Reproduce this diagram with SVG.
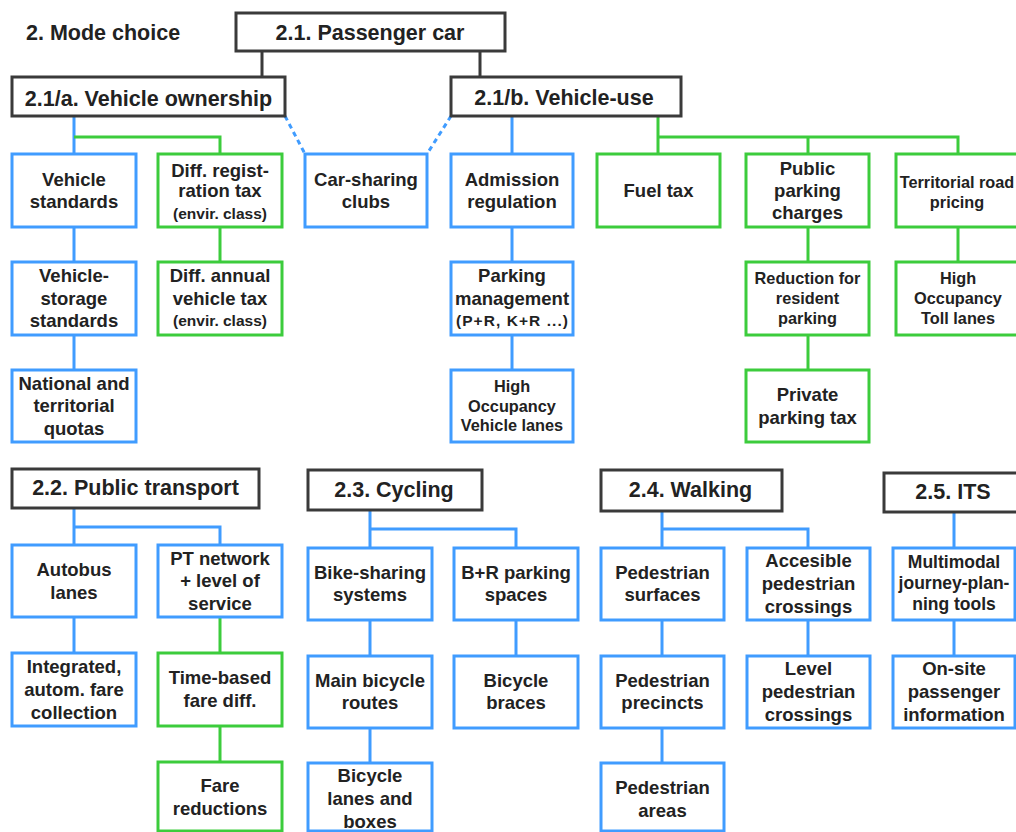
<svg xmlns="http://www.w3.org/2000/svg" width="1016" height="832" viewBox="0 0 1016 832">
<style>
  text { font-family: "Liberation Sans", Arial, sans-serif; font-weight: bold; fill: #222; text-anchor: middle; }
  .t { font-size: 18.5px; }
  .s { font-size: 16.3px; }
  .xs { font-size: 15.5px; }
  .h { font-size: 21.5px; }
  .hd rect { fill: #fff; stroke: #3a3a3a; stroke-width: 3; }
  .bl rect { fill: #fff; stroke: #409cff; stroke-width: 3; }
  .gr rect { fill: #fff; stroke: #3ccc3c; stroke-width: 3; }
  .cb { stroke: #409cff; stroke-width: 3; fill: none; }
  .cg { stroke: #3ccc3c; stroke-width: 3; fill: none; }
  .ck { stroke: #3a3a3a; stroke-width: 3; fill: none; }
  .cd { stroke: #409cff; stroke-width: 3; fill: none; stroke-dasharray: 5 4; }
</style>
<rect width="1016" height="832" fill="#fff"/>

<g id="connectors">
  <path class="ck" d="M262 51V77M480 51V77"/>
  <path class="cb" d="M74 116V154M74 227V262M74 335V370"/>
  <path class="cg" d="M74 137H220V154M220 227V262"/>
  <path class="cd" d="M285 116L305 154M451 116L427 154"/>
  <path class="cb" d="M512 116V154M512 227V262M512 335V370"/>
  <path class="cg" d="M658 116V154M658 137H958V154M808 137V154M808 227V262M808 335V370M958 227V262"/>
  <path class="cb" d="M74 508V545M74 527H220V545M74 617V653"/>
  <path class="cg" d="M220 617V653M220 726V762"/>
  <path class="cb" d="M370 510V548M370 529H516V548M370 620V656M370 728V763M516 620V656"/>
  <path class="cb" d="M662 511V548M662 529H808V548M662 620V656M662 728V763M808 620V656"/>
  <path class="cb" d="M954 512V548M954 620V656"/>
</g>

<text id="mode-choice" class="h" x="26" y="39.5" style="text-anchor:start">2. Mode choice</text>

<g id="n-passenger-car" class="hd"><rect x="236" y="13" width="269" height="38"/><text class="h" x="370" y="40">2.1. Passenger car</text></g>
<g id="n-vehicle-ownership" class="hd"><rect x="12" y="77" width="273" height="39"/><text class="h" x="148.5" y="106">2.1/a. Vehicle ownership</text></g>
<g id="n-vehicle-use" class="hd"><rect x="451" y="77" width="230" height="39"/><text class="h" x="564" y="104.5">2.1/b. Vehicle-use</text></g>

<g id="n-vehicle-standards" class="bl"><rect x="12" y="154" width="124" height="73"/><text class="t" x="74"><tspan x="74" y="186">Vehicle</tspan><tspan x="74" y="208">standards</tspan></text></g>
<g id="n-diff-registration" class="gr"><rect x="158" y="154" width="124" height="73"/><text class="t" x="220"><tspan x="220" y="176.5">Diff. regist-</tspan><tspan x="220" y="197">ration tax</tspan></text><text class="xs" x="220" y="219">(envir. class)</text></g>
<g id="n-car-sharing" class="bl"><rect x="305" y="154" width="122" height="73"/><text class="t" x="366"><tspan x="366" y="186">Car-sharing</tspan><tspan x="366" y="208">clubs</tspan></text></g>
<g id="n-admission" class="bl"><rect x="451" y="154" width="122" height="73"/><text class="t" x="512"><tspan x="512" y="186">Admission</tspan><tspan x="512" y="208">regulation</tspan></text></g>
<g id="n-fuel-tax" class="gr"><rect x="597" y="154" width="123" height="73"/><text class="t" x="658.5" y="197">Fuel tax</text></g>
<g id="n-public-parking" class="gr"><rect x="746" y="154" width="123" height="73"/><text class="t" x="807.5"><tspan x="807.5" y="175">Public</tspan><tspan x="807.5" y="197">parking</tspan><tspan x="807.5" y="219">charges</tspan></text></g>
<g id="n-territorial-road" class="gr"><rect x="896" y="154" width="126" height="73"/><text class="s" x="957"><tspan x="957" y="187.5">Territorial road</tspan><tspan x="957" y="207.5">pricing</tspan></text></g>

<g id="n-vehicle-storage" class="bl"><rect x="12" y="262" width="124" height="73"/><text class="t" x="74"><tspan x="74" y="281.5">Vehicle-</tspan><tspan x="74" y="304.5">storage</tspan><tspan x="74" y="326.5">standards</tspan></text></g>
<g id="n-diff-annual" class="gr"><rect x="158" y="262" width="124" height="73"/><text class="t" x="220"><tspan x="220" y="281.5">Diff. annual</tspan><tspan x="220" y="304.5">vehicle tax</tspan></text><text class="xs" x="220" y="326">(envir. class)</text></g>
<g id="n-parking-management" class="bl"><rect x="451" y="262" width="122" height="73"/><text class="t" x="512"><tspan x="512" y="281.5">Parking</tspan><tspan x="512" y="304.5">management</tspan></text><text class="xs" x="512" y="326" textLength="112">(P+R, K+R ...)</text></g>
<g id="n-reduction-resident" class="gr"><rect x="746" y="262" width="123" height="73"/><text class="s" x="807.5"><tspan x="807.5" y="283.5">Reduction for</tspan><tspan x="807.5" y="303.5">resident</tspan><tspan x="807.5" y="323.5">parking</tspan></text></g>
<g id="n-hot-lanes" class="gr"><rect x="896" y="262" width="126" height="73"/><text class="s" x="958"><tspan x="958" y="283.5">High</tspan><tspan x="958" y="303.5">Occupancy</tspan><tspan x="958" y="323.5">Toll lanes</tspan></text></g>

<g id="n-quotas" class="bl"><rect x="12" y="370" width="124" height="72"/><text class="t" x="74"><tspan x="74" y="389.5">National and</tspan><tspan x="74" y="411.5">territorial</tspan><tspan x="74" y="434.5">quotas</tspan></text></g>
<g id="n-hov-lanes" class="bl"><rect x="451" y="370" width="122" height="72"/><text class="s" x="512"><tspan x="512" y="391.5">High</tspan><tspan x="512" y="411.5">Occupancy</tspan><tspan x="512" y="430.5">Vehicle lanes</tspan></text></g>
<g id="n-private-parking" class="gr"><rect x="746" y="370" width="123" height="72"/><text class="t" x="807.5"><tspan x="807.5" y="400.5">Private</tspan><tspan x="807.5" y="423.5">parking tax</tspan></text></g>

<g id="n-public-transport" class="hd"><rect x="12" y="469" width="247" height="39"/><text class="h" x="135.5" y="494.5">2.2. Public transport</text></g>
<g id="n-cycling" class="hd"><rect x="308" y="470" width="174" height="40"/><text class="h" x="394" y="496.5">2.3. Cycling</text></g>
<g id="n-walking" class="hd"><rect x="601" y="470" width="181" height="41"/><text class="h" x="690.5" y="496.5">2.4. Walking</text></g>
<g id="n-its" class="hd"><rect x="884" y="473" width="140" height="39"/><text class="h" x="953" y="499">2.5. ITS</text></g>

<g id="n-autobus" class="bl"><rect x="12" y="545" width="124" height="72"/><text class="t" x="74"><tspan x="74" y="575.5">Autobus</tspan><tspan x="74" y="598.5">lanes</tspan></text></g>
<g id="n-pt-network" class="bl"><rect x="158" y="545" width="124" height="72"/><text class="t" x="220"><tspan x="220" y="564.5">PT network</tspan><tspan x="220" y="586.5">+ level of</tspan><tspan x="220" y="609.5">service</tspan></text></g>
<g id="n-bike-sharing" class="bl"><rect x="308" y="548" width="124" height="72"/><text class="t" x="370"><tspan x="370" y="578.5">Bike-sharing</tspan><tspan x="370" y="600.5">systems</tspan></text></g>
<g id="n-br-parking" class="bl"><rect x="454" y="548" width="124" height="72"/><text class="t" x="516"><tspan x="516" y="578.5">B+R parking</tspan><tspan x="516" y="600.5">spaces</tspan></text></g>
<g id="n-ped-surfaces" class="bl"><rect x="601" y="548" width="123" height="72"/><text class="t" x="662.5"><tspan x="662.5" y="578.5">Pedestrian</tspan><tspan x="662.5" y="600.5">surfaces</tspan></text></g>
<g id="n-accessible-crossings" class="bl"><rect x="747" y="548" width="123" height="72"/><text class="t" x="808.5"><tspan x="808.5" y="566.5">Accesible</tspan><tspan x="808.5" y="589.5">pedestrian</tspan><tspan x="808.5" y="612.5">crossings</tspan></text></g>
<g id="n-multimodal" class="bl"><rect x="893" y="548" width="122" height="72"/><text class="t" x="954" style="font-size:17.5px"><tspan x="954" y="568">Multimodal</tspan><tspan x="954" y="589">journey-plan-</tspan><tspan x="954" y="610">ning tools</tspan></text></g>

<g id="n-integrated-fare" class="bl"><rect x="12" y="653" width="124" height="73"/><text class="t" x="74"><tspan x="74" y="672.5">Integrated,</tspan><tspan x="74" y="695.5">autom. fare</tspan><tspan x="74" y="718.5">collection</tspan></text></g>
<g id="n-time-based" class="gr"><rect x="158" y="653" width="124" height="73"/><text class="t" x="220"><tspan x="220" y="683.5">Time-based</tspan><tspan x="220" y="706.5">fare diff.</tspan></text></g>
<g id="n-main-bicycle" class="bl"><rect x="308" y="656" width="124" height="72"/><text class="t" x="370"><tspan x="370" y="686.5">Main bicycle</tspan><tspan x="370" y="708.5">routes</tspan></text></g>
<g id="n-bicycle-braces" class="bl"><rect x="454" y="656" width="124" height="72"/><text class="t" x="516"><tspan x="516" y="686.5">Bicycle</tspan><tspan x="516" y="708.5">braces</tspan></text></g>
<g id="n-ped-precincts" class="bl"><rect x="601" y="656" width="123" height="72"/><text class="t" x="662.5"><tspan x="662.5" y="686.5">Pedestrian</tspan><tspan x="662.5" y="708.5">precincts</tspan></text></g>
<g id="n-level-crossings" class="bl"><rect x="747" y="656" width="123" height="72"/><text class="t" x="808.5"><tspan x="808.5" y="674.5">Level</tspan><tspan x="808.5" y="697.5">pedestrian</tspan><tspan x="808.5" y="720.5">crossings</tspan></text></g>
<g id="n-onsite-info" class="bl"><rect x="893" y="656" width="122" height="72"/><text class="t" x="954"><tspan x="954" y="674.5">On-site</tspan><tspan x="954" y="697.5">passenger</tspan><tspan x="954" y="720.5">information</tspan></text></g>

<g id="n-fare-reductions" class="gr"><rect x="158" y="762" width="124" height="69"/><text class="t" x="220"><tspan x="220" y="791.5">Fare</tspan><tspan x="220" y="814.5">reductions</tspan></text></g>
<g id="n-bicycle-lanes" class="bl"><rect x="308" y="763" width="124" height="68"/><text class="t" x="370"><tspan x="370" y="781.5">Bicycle</tspan><tspan x="370" y="804.5">lanes and</tspan><tspan x="370" y="828">boxes</tspan></text></g>
<g id="n-ped-areas" class="bl"><rect x="601" y="763" width="123" height="68"/><text class="t" x="662.5"><tspan x="662.5" y="793.5">Pedestrian</tspan><tspan x="662.5" y="816.5">areas</tspan></text></g>
</svg>
